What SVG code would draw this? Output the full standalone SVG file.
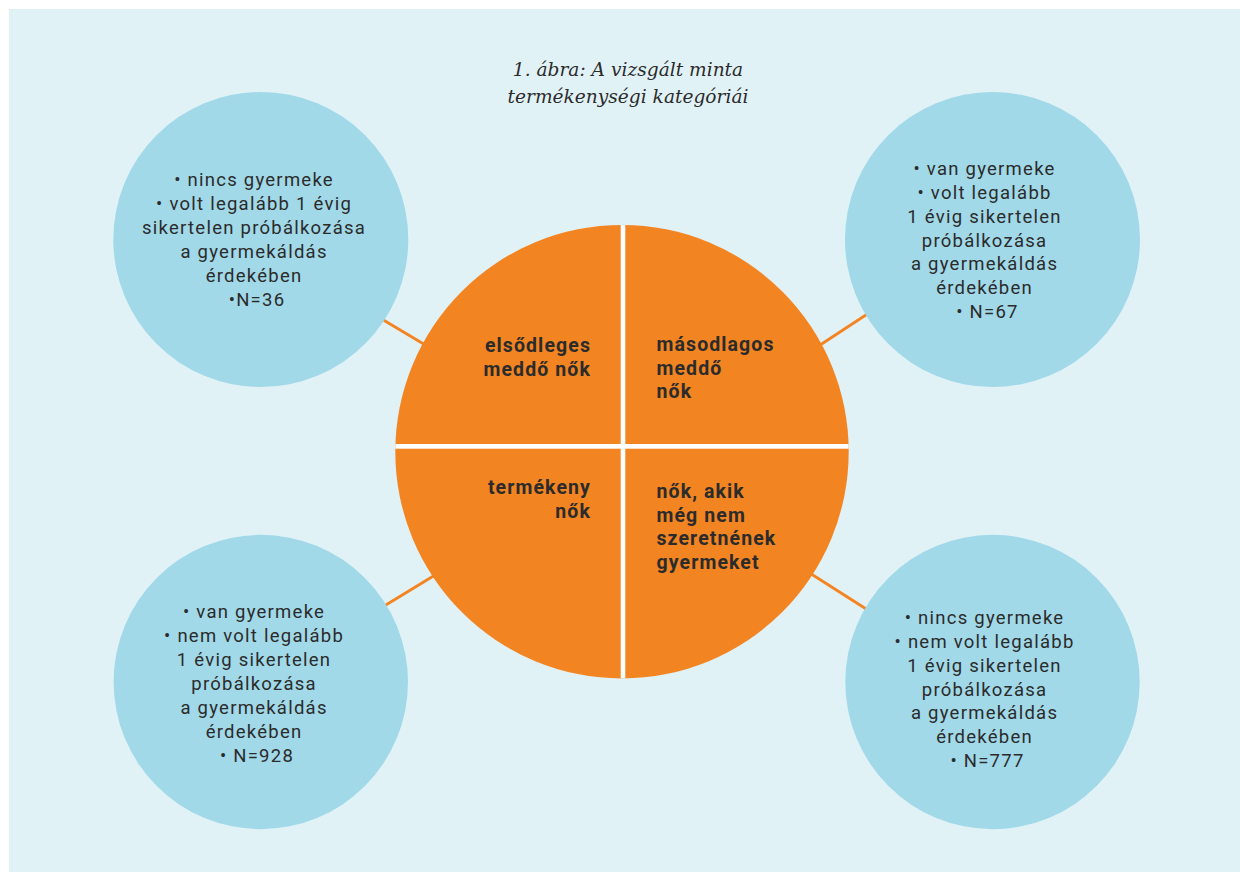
<svg xmlns="http://www.w3.org/2000/svg" width="1240" height="872" viewBox="0 0 1240 872">
  <defs>
    <style>
      .panel { fill: #E1F2F7; }
      .bubble { fill: #A1D9E9; }
      .core { fill: #F38422; }
      .gap { fill: #FFFFFF; }
      .link { stroke: #F38422; stroke-width: 2.8; fill: none; }
      .title { font-family: "DejaVu Serif", "Liberation Serif", serif; font-style: italic; font-size: 18.6px; fill: #2B2B2B; text-anchor: middle; }
      .info { font-family: Roboto, "Liberation Sans", sans-serif; font-size: 18.5px; letter-spacing: 1.25px; fill: #2B2B2B; text-anchor: middle; }
      .label { font-family: Roboto, "Liberation Sans", sans-serif; font-weight: bold; font-size: 19.5px; letter-spacing: 1.1px; fill: #2B2B2B; }
      .right { text-anchor: end; }
      .left { text-anchor: start; }
    </style>
    <clipPath id="disc">
      <circle cx="622" cy="451.7" r="226.7"/>
    </clipPath>
  </defs>

  <rect x="0" y="0" width="1240" height="872" fill="#FFFFFF"/>
  <rect class="panel" x="9" y="9" width="1231" height="863"/>

  <g id="title">
    <text class="title" x="628" y="76">1. ábra: A vizsgált minta</text>
    <text class="title" x="628" y="103">termékenységi kategóriái</text>
  </g>

  <!-- short orange spokes between the centre disc and the outer bubbles -->
  <g id="connectors">
    <line class="link" x1="375" y1="315" x2="432" y2="349"/>
    <line class="link" x1="814" y1="349" x2="875" y2="309"/>
    <line class="link" x1="376" y1="611" x2="440" y2="572"/>
    <line class="link" x1="805" y1="570" x2="874" y2="614"/>
  </g>

  <g id="centre">
    <circle class="core" cx="622" cy="451.7" r="226.7"/>
    <g clip-path="url(#disc)">
      <rect class="gap" x="620.7" y="220" width="4.6" height="465"/>
      <rect class="gap" x="390" y="444" width="465" height="4.7"/>
    </g>
  </g>

  <g id="q-primary">
    <text class="label right" x="591" y="352">elsődleges</text>
    <text class="label right" x="591" y="375.5">meddő nők</text>
  </g>

  <g id="q-secondary">
    <text class="label left" x="656.5" y="351">másodlagos</text>
    <text class="label left" x="656.5" y="374.5">meddő</text>
    <text class="label left" x="656.5" y="398">nők</text>
  </g>

  <g id="q-fertile">
    <text class="label right" x="591" y="494">termékeny</text>
    <text class="label right" x="591" y="517.5">nők</text>
  </g>

  <g id="q-childfree">
    <text class="label left" x="656.5" y="497.5">nők, akik</text>
    <text class="label left" x="656.5" y="521.5">még nem</text>
    <text class="label left" x="656.5" y="545">szeretnének</text>
    <text class="label left" x="656.5" y="568.5">gyermeket</text>
  </g>

  <g id="b-primary">
    <circle class="bubble" cx="260.8" cy="239.5" r="147.5"/>
    <text class="info" x="257">
      <tspan x="257" y="186">• nincs gyermeke</tspan>
      <tspan x="257" y="210">• volt legalább 1 évig</tspan>
      <tspan x="257" y="234">sikertelen próbálkozása</tspan>
      <tspan x="257" y="258">a gyermekáldás</tspan>
      <tspan x="257" y="282">érdekében</tspan>
      <tspan x="257" y="306">•N=36</tspan>
    </text>
  </g>

  <g id="b-secondary">
    <circle class="bubble" cx="992.5" cy="239.5" r="147.5"/>
    <text class="info" x="987.5">
      <tspan x="987.5" y="175">• van gyermeke</tspan>
      <tspan x="987.5" y="199">• volt legalább</tspan>
      <tspan x="987.5" y="223">1 évig sikertelen</tspan>
      <tspan x="987.5" y="246.5">próbálkozása</tspan>
      <tspan x="987.5" y="270">a gyermekáldás</tspan>
      <tspan x="987.5" y="294">érdekében</tspan>
      <tspan x="987.5" y="318">• N=67</tspan>
    </text>
  </g>

  <g id="b-fertile">
    <circle class="bubble" cx="260.8" cy="682" r="147.2"/>
    <text class="info" x="257">
      <tspan x="257" y="618">• van gyermeke</tspan>
      <tspan x="257" y="642">• nem volt legalább</tspan>
      <tspan x="257" y="666">1 évig sikertelen</tspan>
      <tspan x="257" y="689.5">próbálkozása</tspan>
      <tspan x="257" y="713.5">a gyermekáldás</tspan>
      <tspan x="257" y="737.5">érdekében</tspan>
      <tspan x="257" y="761.5">• N=928</tspan>
    </text>
  </g>

  <g id="b-childfree">
    <circle class="bubble" cx="992.5" cy="682" r="147.2"/>
    <text class="info" x="987.5">
      <tspan x="987.5" y="624">• nincs gyermeke</tspan>
      <tspan x="987.5" y="648">• nem volt legalább</tspan>
      <tspan x="987.5" y="672">1 évig sikertelen</tspan>
      <tspan x="987.5" y="695.5">próbálkozása</tspan>
      <tspan x="987.5" y="719">a gyermekáldás</tspan>
      <tspan x="987.5" y="743">érdekében</tspan>
      <tspan x="987.5" y="767">• N=777</tspan>
    </text>
  </g>
</svg>
